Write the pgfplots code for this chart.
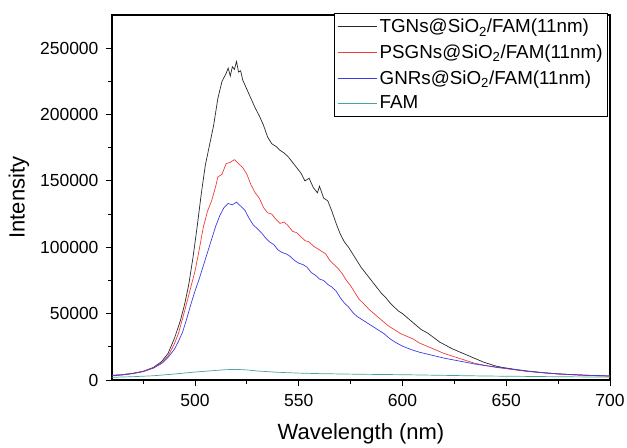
\documentclass[border=0pt]{standalone}
\usepackage{pgfplots}
\pgfplotsset{compat=1.18}
\usepackage{fontspec}
\setmainfont{Liberation Sans}
\definecolor{cblack}{RGB}{40,40,40}
\definecolor{cred}{RGB}{240,60,60}
\definecolor{cblue}{RGB}{60,60,230}
\definecolor{cteal}{RGB}{70,165,155}
\begin{document}
\begin{tikzpicture}
\path[use as bounding box] (-112bp,-68bp) rectangle (515bp,380bp);
\begin{axis}[
  scale only axis, width=498bp, height=365bp,
  at={(0,0)}, anchor=south west,
  xmin=460, xmax=700, ymin=0, ymax=275000,
  xtick={500,550,600,650,700},
  minor xtick={475,525,575,625,675},
  ytick={0,50000,100000,150000,200000,250000},
  minor ytick={25000,75000,125000,175000,225000},
  xtick pos=left, ytick pos=left,
  tick align=outside,
  major tick length=6bp, minor tick length=4bp,
  scaled y ticks=false,
  /pgf/number format/assume math mode=true,
  /pgf/number format/fixed, /pgf/number format/1000 sep={},
  tick label style={font=\fontsize{17.5bp}{19bp}\selectfont},
  yticklabel style={xshift=-4bp},
  xticklabel style={yshift=-5bp},
  label style={font=\fontsize{22bp}{24bp}\selectfont},
  xlabel={Wavelength (nm)}, ylabel={Intensity},
  xlabel style={yshift=-10bp},
  ylabel style={yshift=4bp},
  axis line style={line width=1.1pt},
  every tick/.style={line width=0.9pt, black},
  legend style={at={(rel axis cs:0.996,1.006)}, anchor=north east,
    font=\fontsize{18.8bp}{21bp}\selectfont, draw=black, line width=0.9pt,
    row sep=6.5bp, inner xsep=3bp, inner ysep=4bp},
  legend cell align=left,
  legend image post style={line width=0.7pt},
  legend image code/.code={\draw[#1] (0cm,0cm) -- (1.4cm,0cm);},
  every axis plot/.append style={line width=0.7pt},
]
\addplot[cblack] coordinates {
(460,3500)(465,4000)(470,5000)(475,6500)(480,9500)(484,14000)(487,20000)(490,31000)
(493,45000)(495,57000)(497,72000)(499,92000)(501,115000)(503,140000)(505,162000)
(507,177000)(509,192000)(511,212000)(513,225000)(515,231000)(516,235000)(517,229000)
(518,236000)(519,234000)(520,240000)(521,232000)(522,233000)(523,226000)(525,219000)
(527,212000)(529,205000)(531,199000)(533,192000)(535,183000)(537,178000)(539,176000)
(541,173000)(543,171000)(545,168000)(547,164000)(549,160000)(551,156000)(553,150000)
(555,152000)(557,145000)(559,141000)(560,146000)(562,137000)(564,135000)(566,127000)
(568,118000)(570,110000)(572,104000)(574,100000)(576,95000)(578,90000)(580,85000)
(582,81000)(584,77000)(586,73000)(588,69000)(590,65000)(592,62000)(594,58000)
(596,55000)(598,52000)(600,50000)(603,46000)(606,42000)(609,38000)(612,35500)
(615,32000)(618,28500)(621,26000)(624,23500)(627,21500)(630,19500)(633,17500)
(636,15500)(639,13500)(642,12000)(645,10500)(648,9500)(651,8800)(655,7800)
(660,6800)(665,6000)(670,5200)(675,4600)(680,4200)(685,3800)(690,3400)(695,3200)(700,3000)
};
\addlegendentry{TGNs@SiO\textsubscript{2}/FAM(11nm)}
\addplot[cred] coordinates {
(460,3500)(465,4000)(470,5000)(475,6500)(480,9300)(484,13000)(487,18000)(490,27000)
(492,35000)(495,52000)(498,70000)(500,82000)(502,98000)(504,115000)(506,127000)
(508,135000)(510,146000)(511,153000)(513,155000)(515,163000)(517,164000)(519,166000)
(521,163000)(523,160000)(525,155000)(527,147000)(529,141000)(531,137000)(533,130000)
(535,126000)(537,125000)(539,121000)(541,118000)(543,119000)(545,116000)(547,112000)
(549,111000)(551,108000)(553,105000)(555,104000)(557,101000)(559,99000)(561,97000)
(563,95000)(565,90000)(567,87000)(569,84000)(571,80000)(573,75000)(575,71000)
(577,66000)(579,61000)(581,58000)(584,53000)(587,49000)(590,45000)(593,41000)
(596,38000)(599,35000)(602,33000)(605,31000)(608,28000)(611,26000)(614,24000)
(617,22000)(620,20000)(623,18500)(626,17000)(630,15000)(635,12500)(640,11000)
(645,9500)(650,8500)(655,7500)(660,6500)(665,5800)(670,5200)(675,4600)(680,4100)
(685,3800)(690,3500)(695,3200)(700,3000)
};
\addlegendentry{PSGNs@SiO\textsubscript{2}/FAM(11nm)}
\addplot[cblue] coordinates {
(460,3200)(465,3800)(470,4800)(475,6300)(480,9000)(484,12500)(487,17000)(490,23000)
(492,29000)(494,36000)(496,46000)(498,57000)(500,67000)(502,76000)(504,86000)
(506,96000)(508,106000)(510,116000)(512,124000)(514,130000)(516,133000)(518,132000)
(520,134000)(522,131000)(524,128000)(526,122000)(528,117000)(530,114000)(532,111000)
(534,107000)(536,104000)(538,102000)(540,98000)(542,96000)(544,95000)(546,93000)
(548,90000)(550,88000)(552,87000)(554,85000)(556,81000)(558,79000)(560,76000)
(562,75000)(564,72000)(566,70000)(568,67000)(570,62000)(572,58000)(574,55000)
(576,51000)(578,48000)(580,46000)(582,44000)(585,41000)(588,38000)(591,35000)
(594,31000)(597,28000)(600,25500)(604,23000)(608,21000)(612,19500)(616,18000)
(620,16500)(625,15000)(630,13500)(635,12000)(640,10800)(645,9800)(650,8800)
(655,7700)(660,6700)(665,5900)(670,5200)(675,4600)(680,4200)(685,3800)(690,3500)
(695,3300)(700,3000)
};
\addlegendentry{GNRs@SiO\textsubscript{2}/FAM(11nm)}
\addplot[cteal] coordinates {
(460,2000)(470,2500)(480,3200)(490,4500)(500,6000)(510,7200)(515,7800)(520,8000)
(525,7600)(530,6800)(540,5800)(550,5200)(560,4800)(580,4300)(600,4000)(620,3500)
(640,3000)(660,2700)(680,2400)(700,2200)
};
\addlegendentry{FAM}
\end{axis}
\end{tikzpicture}
\end{document}
